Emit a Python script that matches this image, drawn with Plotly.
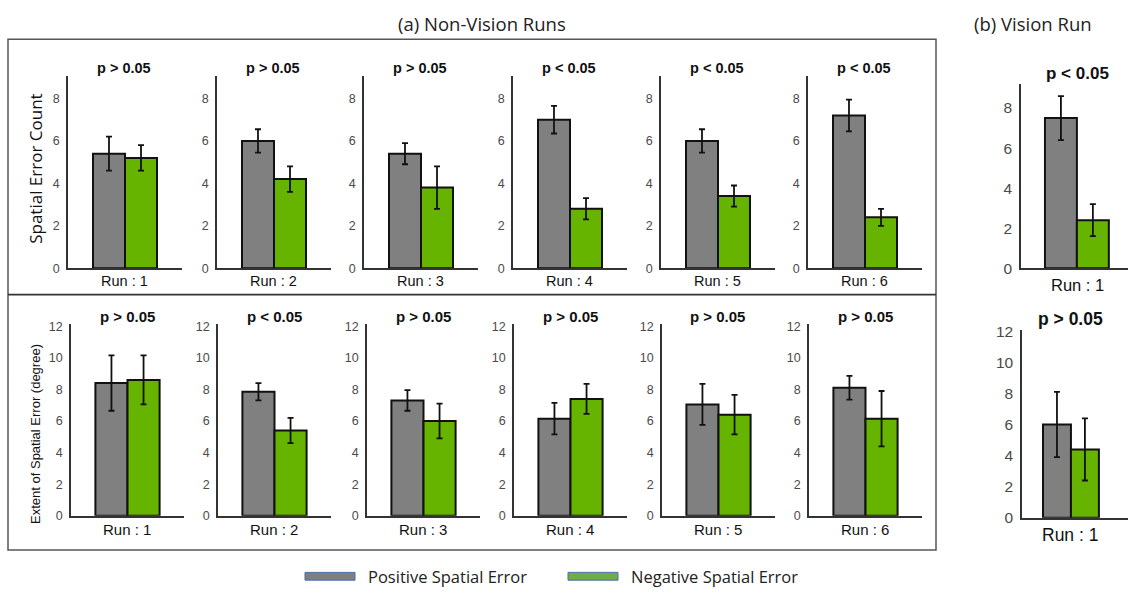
import plotly.graph_objects as go

# ---- data ----
runs = [1, 2, 3, 4, 5, 6]
series = ["Positive Spatial Error", "Negative Spatial Error"]

count_pos = [5.4, 6.0, 5.4, 7.0, 6.0, 7.2]
count_pos_err = [0.8, 0.55, 0.5, 0.65, 0.55, 0.75]
count_neg = [5.2, 4.2, 3.8, 2.8, 3.4, 2.4]
count_neg_err = [0.6, 0.6, 1.0, 0.5, 0.5, 0.4]
count_p = ["p > 0.05", "p > 0.05", "p > 0.05", "p < 0.05", "p < 0.05", "p < 0.05"]

extent_pos = [8.4, 7.85, 7.3, 6.15, 7.05, 8.1]
extent_pos_err = [1.75, 0.55, 0.65, 1.0, 1.3, 0.75]
extent_neg = [8.6, 5.4, 6.0, 7.4, 6.4, 6.15]
extent_neg_err = [1.55, 0.8, 1.1, 0.95, 1.25, 1.75]
extent_p = ["p > 0.05", "p < 0.05", "p > 0.05", "p > 0.05", "p > 0.05", "p > 0.05"]

vision_count = [7.5, 2.4]
vision_count_err = [1.1, 0.8]
vision_count_p = "p < 0.05"
vision_extent = [6.0, 4.4]
vision_extent_err = [2.1, 2.0]
vision_extent_p = "p > 0.05"

count_ticks = [0, 2, 4, 6, 8]
extent_ticks = [0, 2, 4, 6, 8, 10, 12]

# ---- styling ----
W, H = 1128, 595
BAR_COLORS = ["#808080", "#66b300"]
AXIS_COLOR = "#333333"
SANS = "Liberation Sans, Arial, sans-serif"
SOFT = "Open Sans, Noto Sans, sans-serif"


def px(x):
    return x / W


def py(y):
    return 1 - y / H


fig = go.Figure()
annotations = []
n_axis = [0]


def add_panel(left, right, top, base, xrange, yrange, ticks, values, errors,
              tick_size=12.5):
    n_axis[0] += 1
    k = n_axis[0]
    sfx = "" if k == 1 else str(k)
    fig.add_trace(go.Bar(
        x=series, y=values, width=1,
        marker=dict(color=BAR_COLORS, line=dict(color="#111111", width=2)),
        error_y=dict(type="data", array=errors, color="#111111",
                     thickness=1.8, width=3),
        xaxis="x" + sfx, yaxis="y" + sfx, showlegend=False,
        hoverinfo="x+y",
    ))
    fig.layout["xaxis" + sfx] = dict(
        domain=[px(left), px(right)], anchor="y" + sfx, range=xrange,
        showticklabels=False, ticks="", showgrid=False, zeroline=False,
        showline=True, linecolor=AXIS_COLOR, linewidth=1.5, fixedrange=True,
    )
    fig.layout["yaxis" + sfx] = dict(
        domain=[py(base), py(top)], anchor="x" + sfx, range=yrange,
        tickvals=ticks, ticks="", showgrid=False, zeroline=False,
        showline=True, linecolor=AXIS_COLOR, linewidth=1.5,
        ticklabelstandoff=4,
        tickfont=dict(family=SANS, size=tick_size, color="#4a4a4a"),
        fixedrange=True,
    )


def text(x, y, s, size, family=SANS, bold=False, color="#111111", angle=0):
    annotations.append(dict(
        x=px(x), y=py(y), xref="paper", yref="paper",
        text=f"<b>{s}</b>" if bold else s,
        showarrow=False, xanchor="center", yanchor="middle", textangle=angle,
        font=dict(family=family, size=size, color=color),
    ))


# top row: spatial error count
top_left = [68, 217, 364, 513, 661, 808]
for i, run in enumerate(runs):
    l = top_left[i]
    add_panel(l, l + 114, 71, 268, [-1.28, 2.28], [0, 9.05], count_ticks,
              [count_pos[i], count_neg[i]], [count_pos_err[i], count_neg_err[i]])
    text(l + 56, 63, count_p[i], 14.5, bold=True)
    text(l + 56, 281, f"Run : {run}", 14.5)

# bottom row: extent of spatial error
bot_left = [71, 218, 367, 514, 662, 809]
for i, run in enumerate(runs):
    l = bot_left[i]
    add_panel(l, l + 113, 325, 522, [-1.26, 2.26], [0, 12.15], extent_ticks,
              [extent_pos[i], extent_neg[i]], [extent_pos_err[i], extent_neg_err[i]])
    text(l + 56, 318, extent_p[i], 15, bold=True)
    text(l + 56, 536, f"Run : {run}", 15)

# vision run panels
add_panel(1021, 1128, 79, 268, [-1.25, 2.1], [0, 9.2], count_ticks,
          vision_count, vision_count_err, tick_size=15.5)
text(1077, 68, vision_count_p, 17, bold=True)
text(1077, 285, "Run : 1", 16.5)

add_panel(1022, 1128, 331, 524, [-1.25, 2.54], [0, 12.1], extent_ticks,
          vision_extent, vision_extent_err, tick_size=15.5)
text(1070, 320, vision_extent_p, 17.5, bold=True)
text(1070, 542, "Run : 1", 17.5)

# axis titles
text(36, 166, "Spatial Error Count", 17, family=SOFT, angle=-90)
text(36, 438, "Extent of Spatial Error (degree)", 13, family=SANS, angle=-90)

# section titles
text(482, 17, "(a) Non-Vision Runs", 18.5, family=SOFT, color="#222222")
text(1033, 17, "(b) Vision Run", 18.5, family=SOFT, color="#222222")

# outer frame, row divider and legend swatches
legend_items = [(305, 355, "#7f7f7f", series[0]), (568, 618, "#70ad47", series[1])]
shapes = [
    dict(type="rect", xref="paper", yref="paper", x0=px(8), x1=px(936),
         y0=py(557), y1=py(33), line=dict(color="#555555", width=1.5)),
    dict(type="line", xref="paper", yref="paper", x0=px(8), x1=px(936),
         y0=py(295), y1=py(295), line=dict(color="#333333", width=1.8)),
]
for x0, x1, col, label in legend_items:
    shapes.append(dict(type="rect", xref="paper", yref="paper", x0=px(x0), x1=px(x1),
                       y0=py(588), y1=py(580), fillcolor=col,
                       line=dict(color="#4a6ea9", width=1)))
    annotations.append(dict(
        x=px(x1 + 11), y=py(584), xref="paper", yref="paper", text=label,
        showarrow=False, xanchor="left", yanchor="middle",
        font=dict(family=SOFT, size=16.5, color="#222222"),
    ))

fig.update_layout(
    width=W, height=H, margin=dict(l=0, r=0, t=0, b=0),
    paper_bgcolor="white", plot_bgcolor="white",
    annotations=annotations, shapes=shapes, showlegend=False,
)

fig.write_html("out.html")
